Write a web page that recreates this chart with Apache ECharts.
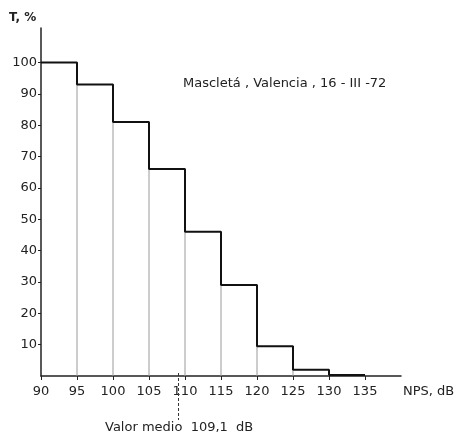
<!DOCTYPE html>
<html><head><meta charset="utf-8">
<script src="https://cdn.jsdelivr.net/npm/echarts@6/dist/echarts.min.js"></script>
<style>html,body{margin:0;padding:0;background:#fff}#c{width:463px;height:435px}</style>
</head><body><div id="c"></div>
<script>
// bin edges (NPS, dB) and cumulative percentage T (%)
const binStarts = [90, 95, 100, 105, 110, 115, 120, 125, 130];
const binValues = [100, 93, 81, 66, 46, 29, 9.5, 2, 0.3];
const binEnd = 135;
const xTicks = [90, 95, 100, 105, 110, 115, 120, 125, 130, 135];
const yTicks = [10, 20, 30, 40, 50, 60, 70, 80, 90, 100];
const meanValue = 109.1;

const stepData = binStarts.map((x, i) => [x, binValues[i]]).concat([[binEnd, binValues[binValues.length - 1]]]);
const edgeData = binStarts.slice(1).map((x, i) => [x, binValues[i + 1]]);

const font = '"DejaVu Sans", sans-serif';
const chart = echarts.init(document.getElementById('c'));
chart.setOption({
  animation: false,
  backgroundColor: '#fff',
  grid: { left: 41, right: 62, top: 28, bottom: 59 },
  xAxis: {
    type: 'value', min: 90, max: 140, interval: 5,
    axisLine: { lineStyle: { color: '#222', width: 1.5 } },
    axisTick: { length: 4, customValues: xTicks, lineStyle: { color: '#222' } },
    axisLabel: { customValues: xTicks, margin: 9, color: '#222', fontSize: 13, fontFamily: font },
    splitLine: { show: false }
  },
  yAxis: {
    type: 'value', min: 0, max: 111,
    axisLine: { show: true, lineStyle: { color: '#222', width: 1.5 } },
    axisTick: { show: true, length: 3, customValues: yTicks, lineStyle: { color: '#222' } },
    axisLabel: { customValues: yTicks, margin: 4, color: '#222', fontSize: 13, fontFamily: font },
    splitLine: { show: false }
  },
  series: [
    {
      type: 'custom',
      data: edgeData,
      renderItem: function (params, api) {
        const top = api.coord([api.value(0), api.value(1)]);
        const bot = api.coord([api.value(0), 0]);
        return { type: 'line', shape: { x1: top[0], y1: top[1], x2: bot[0], y2: bot[1] },
          style: { stroke: '#999', lineWidth: 1 } };
      },
      z: 1
    },
    {
      type: 'line', step: 'end', data: stepData, symbol: 'none',
      lineStyle: { color: '#111', width: 2 }, z: 3
    },
    {
      type: 'custom',
      data: [[meanValue]],
      clip: false,
      renderItem: function (params, api) {
        const p = api.coord([api.value(0), 0]);
        return { type: 'line', shape: { x1: p[0], y1: p[1] - 3, x2: p[0], y2: p[1] + 44 },
          style: { stroke: '#333', lineWidth: 1, lineDash: [3, 2] } };
      },
      z: 4
    }
  ],
  graphic: [
    { type: 'text', left: 9, top: 12, style: { text: 'T, %', font: 'bold 12px ' + font, fill: '#222' } },
    { type: 'text', left: 183, top: 77, style: { text: 'Mascletá , Valencia , 16 - III -72', font: '13px ' + font, fill: '#222' } },
    { type: 'text', left: 403, top: 385, style: { text: 'NPS, dB', font: '13px ' + font, fill: '#222' } },
    { type: 'text', left: 105, top: 421, style: { text: 'Valor medio  109,1  dB', font: '13px ' + font, fill: '#222' } }
  ]
});
</script></body></html>
